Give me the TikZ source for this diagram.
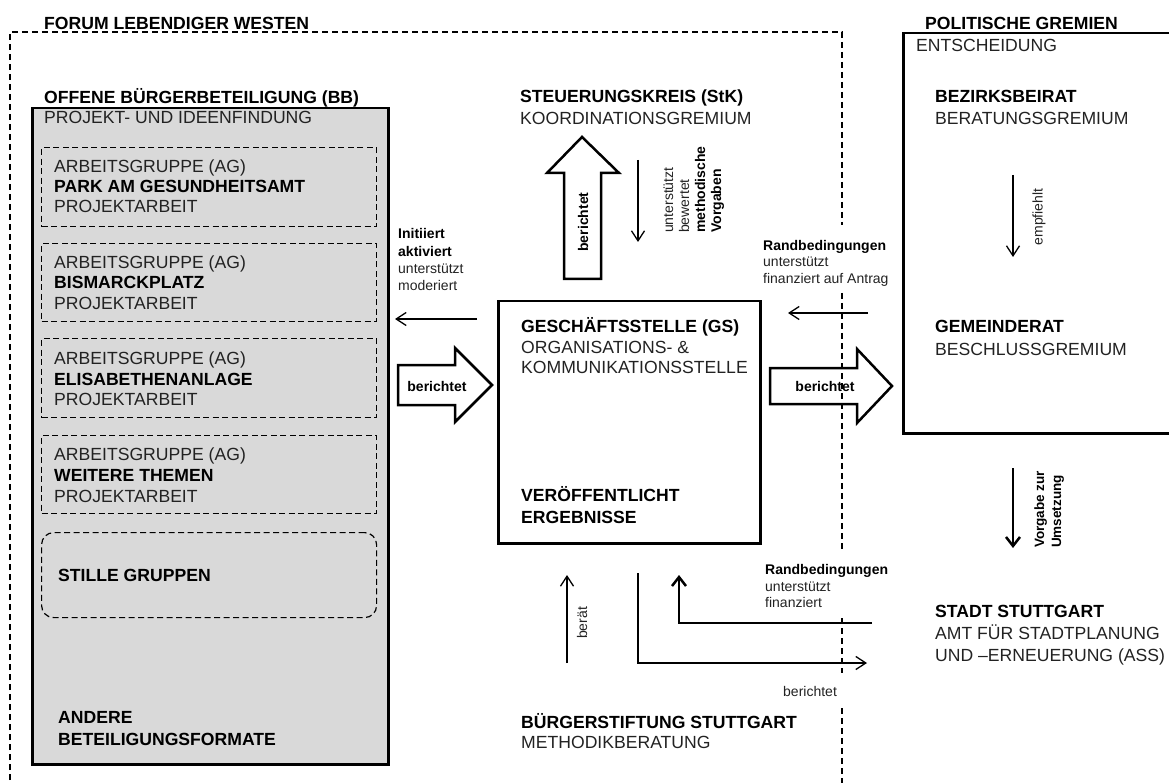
\documentclass[tikz,border=0pt]{standalone}
\usepackage{fontspec}
\setmainfont{Liberation Sans}
\usetikzlibrary{arrows.meta}
\definecolor{bbgray}{HTML}{D9D9D9}
\definecolor{txt}{HTML}{222222}
\begin{document}
\begin{tikzpicture}[x=1pt,y=-1pt,
  reg/.style={inner sep=0pt, anchor=base west, text=txt, font=\fontsize{17.6}{20}\selectfont},
  bld/.style={inner sep=0pt, anchor=base west, text=black, font=\fontsize{17.6}{20}\selectfont\bfseries},
  sreg/.style={inner sep=0pt, anchor=base west, text=txt, font=\fontsize{14}{17}\selectfont},
  sbld/.style={inner sep=0pt, anchor=base west, text=black, font=\fontsize{14}{17}\selectfont\bfseries},
  frame/.style={draw, line width=1.2pt, dash pattern=on 6pt off 4pt},
  agbox/.style={draw, line width=1.2pt, dash pattern=on 6pt off 3.5pt, inner sep=0pt, anchor=north west, minimum width=335pt},
  solidbox/.style={draw, line width=2.5pt, inner sep=0pt, anchor=north west},
  thinarrow/.style={line width=1.3pt, -{Straight Barb[length=10pt,width=13pt]}},
  thickarrow/.style={line width=2.5pt, -{Straight Barb[length=9pt,width=14pt]}},
  blockarrow/.style={draw, line width=2.5pt, line join=miter},
]
\useasboundingbox (0,0) rectangle (1169,783);

% outer dashed frame (Forum Lebendiger Westen)
\coordinate (fbl) at (10,790);
\coordinate (ftl) at (10,32);
\coordinate (ftr) at (842,32);
\draw[frame] (fbl) -- (ftl) -- (ftr) -- (842,225);
\draw[frame] (842,293) -- (842,550);
\draw[frame] (842,618) -- (842,673);
\draw[frame] (842,708) -- (842,790);
\node[bld] (forum) at (44,30) {FORUM LEBENDIGER WESTEN};

% Offene Buergerbeteiligung
\node (bb) [solidbox, fill=bbgray, minimum width=356pt, minimum height=656pt] at (31,107) {};
\node[bld] (bbt) at (44,104) {OFFENE BÜRGERBETEILIGUNG (BB)};
\node[reg] (bbs) at (44,124) {PROJEKT- UND IDEENFINDUNG};

\node (ag1) [agbox, minimum height=79pt] at (41,147) {};
\node (ag2) [agbox, minimum height=78pt] at (41,243) {};
\node (ag3) [agbox, minimum height=79pt] at (41,338) {};
\node (ag4) [agbox, minimum height=78pt] at (41,435) {};
\node (stille) [agbox, rounded corners=12pt, minimum height=85pt] at (41,532) {};

\node[reg] (ag1a) at (54,173) {ARBEITSGRUPPE (AG)};
\node[bld] (ag1b) at (54,193) {PARK AM GESUNDHEITSAMT};
\node[reg] (ag1c) at (54,213) {PROJEKTARBEIT};
\node[reg] (ag2a) at (54,269) {ARBEITSGRUPPE (AG)};
\node[bld] (ag2b) at (54,289) {BISMARCKPLATZ};
\node[reg] (ag2c) at (54,309) {PROJEKTARBEIT};
\node[reg] (ag3a) at (54,364) {ARBEITSGRUPPE (AG)};
\node[bld] (ag3b) at (54,385) {ELISABETHENANLAGE};
\node[reg] (ag3c) at (54,405) {PROJEKTARBEIT};
\node[reg] (ag4a) at (54,460) {ARBEITSGRUPPE (AG)};
\node[bld] (ag4b) at (54,481) {WEITERE THEMEN};
\node[reg] (ag4c) at (54,502) {PROJEKTARBEIT};
\node[bld] (stillet) at (58,581) {STILLE GRUPPEN};
\node[bld] (and1) at (58,723) {ANDERE};
\node[bld] (and2) at (58,745) {BETEILIGUNGSFORMATE};

% Steuerungskreis
\node[bld] (stk1) at (520,103) {STEUERUNGSKREIS (StK)};
\node[reg] (stk2) at (520,125) {KOORDINATIONSGREMIUM};

% Geschaeftsstelle
\node (gs) [solidbox, minimum width=262pt, minimum height=242pt] at (497,300) {};
\node[bld] (gs1) at (521,332) {GESCHÄFTSSTELLE (GS)};
\node[reg] (gs2) at (521,353) {ORGANISATIONS- \&};
\node[reg] (gs3) at (521,373) {KOMMUNIKATIONSSTELLE};
\node[bld] (gs4) at (521,501) {VERÖFFENTLICHT};
\node[bld] (gs5) at (521,523) {ERGEBNISSE};

% Politische Gremien
\node (pg) [solidbox, minimum width=290pt, minimum height=400pt] at (902,32) {};
\node[bld] (pgt) at (925,30) {POLITISCHE GREMIEN};
\node[reg] (pgs) at (916,52) {ENTSCHEIDUNG};
\node[bld] (bzb1) at (935,103) {BEZIRKSBEIRAT};
\node[reg] (bzb2) at (935,125) {BERATUNGSGREMIUM};
\node[bld] (gr1) at (935,333) {GEMEINDERAT};
\node[reg] (gr2) at (935,355) {BESCHLUSSGREMIUM};

% Stadt Stuttgart
\node[bld] (st1) at (935,617) {STADT STUTTGART};
\node[reg] (st2) at (935,639) {AMT FÜR STADTPLANUNG};
\node[reg] (st3) at (935,661) {UND –ERNEUERUNG (ASS)};

% Buergerstiftung
\node[bld] (bs1) at (521,728) {BÜRGERSTIFTUNG STUTTGART};
\node[reg] (bs2) at (521,748) {METHODIKBERATUNG};

% block arrows
\draw[blockarrow] (564,279) -- (564,173) -- (547,173) -- (582,137) -- (619,173) -- (601,173) -- (601,279) -- cycle;
\node[inner sep=0pt, rotate=90, font=\fontsize{14}{17}\selectfont\bfseries] (b1) at (583,222) {berichtet};

\draw[blockarrow] (398,365) -- (455,365) -- (455,348) -- (492,385) -- (455,422) -- (455,405) -- (398,405) -- cycle;
\node[inner sep=0pt, font=\fontsize{14}{17}\selectfont\bfseries] (b2) at (437,386) {berichtet};

\draw[blockarrow] (770,368) -- (857,368) -- (857,349) -- (892,386) -- (857,423) -- (857,404) -- (770,404) -- cycle;
\node[inner sep=0pt, font=\fontsize{14}{17}\selectfont\bfseries] (b3) at (825,386) {berichtet};

% thin arrows
\coordinate (a1s) at (477,319); \coordinate (a1e) at (395,319);
\draw[thinarrow] (a1s) -- (a1e);
\node[sbld] (l1) at (398,239) {Initiiert};
\node[sbld] (l2) at (398,257) {aktiviert};
\node[sreg] (l3) at (398,274) {unterstützt};
\node[sreg] (l4) at (398,291) {moderiert};

\coordinate (a2s) at (638,160); \coordinate (a2e) at (638,242);
\draw[thinarrow] (a2s) -- (a2e);
\node[sreg, rotate=90] (r1) at (673,233) {unterstützt};
\node[sreg, rotate=90] (r2) at (689,233) {bewertet};
\node[sbld, rotate=90] (r3) at (705,233) {methodische};
\node[sbld, rotate=90] (r4) at (721,233) {Vorgaben};

\coordinate (a3s) at (868,313); \coordinate (a3e) at (788,313);
\draw[thinarrow] (a3s) -- (a3e);
\node[sbld] (rb1) at (763,251) {Randbedingungen};
\node[sreg] (rb2) at (763,267) {unterstützt};
\node[sreg] (rb3) at (763,284) {finanziert auf Antrag};

\coordinate (a4s) at (1013,175); \coordinate (a4e) at (1013,257);
\draw[thinarrow] (a4s) -- (a4e);
\node[inner sep=0pt, rotate=90, text=txt, font=\fontsize{14}{17}\selectfont] (emp) at (1039,217) {empfiehlt};

\coordinate (a5s) at (1013,468); \coordinate (a5e) at (1013,548);
\draw[thickarrow] (a5s) -- (a5e);
\node[sbld, rotate=90, font=\fontsize{13.5}{16}\selectfont\bfseries] (vg1) at (1044,548) {Vorgabe zur};
\node[sbld, rotate=90, font=\fontsize{13.5}{16}\selectfont\bfseries] (vg2) at (1061,548) {Umsetzung};

\coordinate (a6s) at (567,663); \coordinate (a6e) at (567,575);
\draw[thinarrow] (a6s) -- (a6e);
\node[inner sep=0pt, rotate=90, text=txt, font=\fontsize{14}{17}\selectfont] (ber) at (582,623) {berät};

\coordinate (a7s) at (638,573); \coordinate (a7m) at (638,663); \coordinate (a7e) at (867,663);
\draw[thinarrow] (a7s) -- (a7m) -- (a7e);
\node[sreg] (bl) at (783,696) {berichtet};

\coordinate (a8s) at (872,623); \coordinate (a8m) at (679,623); \coordinate (a8e) at (679,575);
\draw[thickarrow] (a8s) -- (a8m) -- (a8e);
\node[sbld] (rc1) at (765,574) {Randbedingungen};
\node[sreg] (rc2) at (765,591) {unterstützt};
\node[sreg] (rc3) at (765,607) {finanziert};
\end{tikzpicture}
\end{document}
